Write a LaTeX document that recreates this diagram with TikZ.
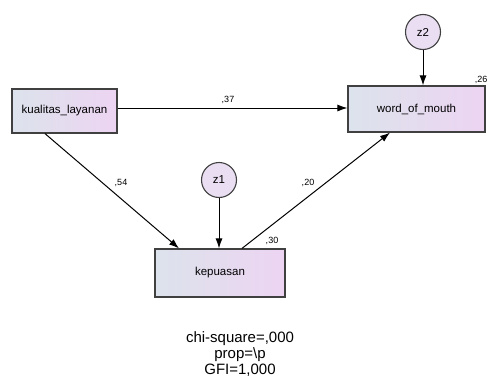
\documentclass[tikz,border=0pt]{standalone}
\usepackage{fontspec}
\setmainfont{Liberation Sans}
\usetikzlibrary{arrows.meta,calc}
\definecolor{gleft}{HTML}{DCE3EC}
\definecolor{gright}{HTML}{EDD4F2}
\definecolor{circfill}{HTML}{EADFF2}
\definecolor{edgegray}{HTML}{404040}
\tikzset{
  varbox/.style={draw=edgegray, line width=1.2pt, left color=gleft, right color=gright,
    inner sep=0pt, font=\fontsize{11.5}{13}\selectfont},
  errcirc/.style={circle, draw=edgegray, line width=1.1pt, fill=circfill, minimum size=35pt,
    inner sep=0pt, font=\fontsize{11.5}{13}\selectfont},
  path/.style={draw=black, line width=1pt, -{Latex[length=10pt,width=7pt]}},
  coef/.style={font=\fontsize{9}{10}\selectfont, inner sep=0pt}
}
\begin{document}
\begin{tikzpicture}[x=1pt,y=-1pt]
\useasboundingbox (0,0) rectangle (487,380);
\node[varbox, minimum width=105pt, minimum height=44pt] (kl) at (64.5,111) {kualitas\_layanan};
\node[varbox, minimum width=137pt, minimum height=46pt] (wom) at (416.5,109) {word\_of\_mouth};
\node[varbox, minimum width=130pt, minimum height=48pt] (kep) at (220,273) {kepuasan};
\node[errcirc] (z1) at (219,180) {z1};
\node[errcirc] (z2) at (423,32) {z2};

\draw[path] (kl.east |- 0,108) -- (wom.west |- 0,108);
\draw[path] ([xshift=-19.5pt]kl.south) -- ([xshift=-41pt]kep.north);
\draw[path] (z1.south) -- (z1.south |- kep.north);
\draw[path] ([xshift=22pt]kep.north) -- ([xshift=-26.5pt]wom.south);
\draw[path] (z2.south) -- (z2.south |- wom.north);

\node[coef] (c37) at (228,100) {,37};
\node[coef] (c54) at (121,183) {,54};
\node[coef] (c20) at (308,183) {,20};
\node[coef] (c30) at (272,241) {,30};
\node[coef] (c26) at (481,80) {,26};

\node[align=center, font=\fontsize{15}{16}\selectfont, inner sep=0pt] (fit) at (240,354)
  {chi-square=,000\\prop=\textbackslash p\\GFI=1,000};
\end{tikzpicture}
\end{document}
